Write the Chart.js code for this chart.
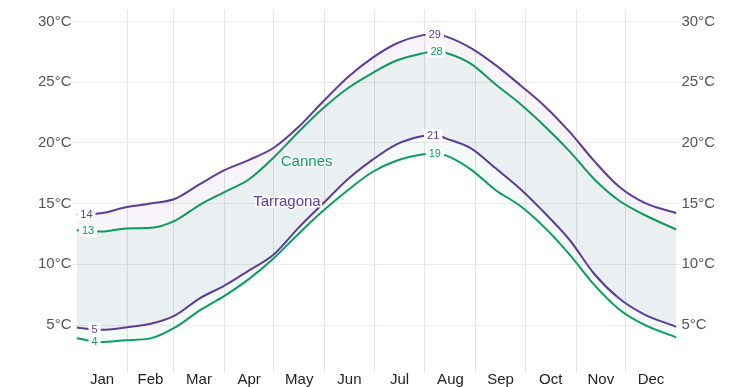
<!DOCTYPE html>
<html>
<head>
<meta charset="utf-8">
<script src="https://cdn.jsdelivr.net/npm/chart.js@4"></script>
<style>
  html, body { margin: 0; background: #fff; }
  #wrap { width: 753px; height: 387px; }
</style>
</head>
<body>
<div id="wrap"><canvas id="c"></canvas></div>
<script>
// day of year for each reading
const days = [0, 15, 30, 45, 60, 75, 90, 105, 120, 135, 150, 165, 180, 195, 210, 218, 225, 240, 255, 270, 285, 300, 315, 330, 345, 365];

const tarragonaHigh = [14.1, 14.2, 14.7, 15.0, 15.4, 16.6, 17.75, 18.6, 19.6, 21.3, 23.4, 25.4, 27.0, 28.2, 28.85, 28.95, 28.75, 27.8, 26.4, 24.75, 23.0, 20.9, 18.5, 16.4, 15.1, 14.2];
const tarragonaLow  = [4.8, 4.6, 4.8, 5.1, 5.8, 7.2, 8.25, 9.5, 10.8, 13.0, 15.0, 17.0, 18.6, 19.9, 20.55, 20.65, 20.35, 19.55, 17.9, 16.2, 14.2, 12.0, 9.2, 7.2, 5.9, 4.85];
const cannesHigh    = [12.8, 12.7, 12.95, 13.0, 13.6, 14.9, 15.95, 17.0, 18.8, 20.9, 22.85, 24.5, 25.75, 26.8, 27.35, 27.55, 27.4, 26.5, 24.8, 23.2, 21.35, 19.3, 17.0, 15.25, 14.1, 12.85];
const cannesLow     = [3.9, 3.6, 3.75, 3.9, 4.8, 6.2, 7.4, 8.8, 10.5, 12.5, 14.4, 16.1, 17.6, 18.55, 19.05, 19.1, 18.95, 17.8, 16.1, 14.8, 13.0, 10.8, 8.3, 6.3, 5.05, 3.97];

const months = ['Jan', 'Feb', 'Mar', 'Apr', 'May', 'Jun', 'Jul', 'Aug', 'Sep', 'Oct', 'Nov', 'Dec'];
const monthStarts = [0, 31, 59, 90, 120, 151, 181, 212, 243, 273, 304, 334, 365];
const tempTicks = [5, 10, 15, 20, 25, 30];

// min / max labels: which series, on which day, what it says
const valueLabels = [
  { series: 0, day: 6,   text: '14' },
  { series: 0, day: 218, text: '29' },
  { series: 1, day: 11,  text: '5' },
  { series: 1, day: 217, text: '21' },
  { series: 2, day: 7,   text: '13' },
  { series: 2, day: 219, text: '28' },
  { series: 3, day: 11,  text: '4' },
  { series: 3, day: 218, text: '19' }
];

const PURPLE = '#5e3c99';
const GREEN = '#0a9f5d';
const FONT = '"Liberation Sans", Arial, Helvetica, sans-serif';

const seriesArrays = [tarragonaHigh, tarragonaLow, cannesHigh, cannesLow];
const pts = arr => days.map((d, i) => ({ x: d, y: arr[i] }));

// only used to sit a label on its line
function valueAt(arr, day) {
  for (let i = 1; i < days.length; i++) {
    if (day <= days[i]) {
      const t = (day - days[i - 1]) / (days[i] - days[i - 1]);
      return arr[i - 1] + t * (arr[i] - arr[i - 1]);
    }
  }
  return arr[arr.length - 1];
}

const labelsPlugin = {
  id: 'labels',
  afterDatasetsDraw(chart) {
    const { ctx, scales: { x, y } } = chart;
    ctx.save();
    ctx.textAlign = 'center';
    ctx.textBaseline = 'middle';

    ctx.font = '11px ' + FONT;
    for (const l of valueLabels) {
      const color = chart.data.datasets[l.series].borderColor;
      const px = x.getPixelForValue(l.day);
      const py = y.getPixelForValue(valueAt(seriesArrays[l.series], l.day));
      const w = ctx.measureText(l.text).width + 6;
      ctx.fillStyle = '#fff';
      ctx.fillRect(px - w / 2, py - 6, w, 12);
      ctx.fillStyle = color;
      ctx.fillText(l.text, px, py + 0.5);
    }

    // series names
    ctx.font = '15px ' + FONT;
    ctx.lineWidth = 3;
    ctx.strokeStyle = '#fff';
    const names = [
      { text: 'Cannes', day: 140, temp: 18.4, color: GREEN },
      { text: 'Tarragona', day: 128, temp: 15.1, color: PURPLE }
    ];
    for (const n of names) {
      const px = x.getPixelForValue(n.day), py = y.getPixelForValue(n.temp);
      ctx.strokeText(n.text, px, py);
      ctx.fillStyle = n.color;
      ctx.fillText(n.text, px, py);
    }
    ctx.restore();
  }
};

const yAxis = (pos) => ({
  type: 'linear',
  position: pos,
  min: 1.13,
  max: 30.94,
  afterBuildTicks: axis => { axis.ticks = tempTicks.map(v => ({ value: v })); },
  border: { display: false },
  grid: {
    color: '#ebebeb',
    tickLength: 4,
    drawOnChartArea: pos === 'left'
  },
  ticks: {
    padding: 1,
    color: '#555',
    font: { size: 15, family: FONT },
    callback: v => v + '°C'
  }
});

new Chart(document.getElementById('c'), {
  type: 'line',
  data: {
    datasets: [
      { label: 'Tarragona high', data: pts(tarragonaHigh), borderColor: PURPLE,
        fill: '+1', backgroundColor: 'rgba(94,60,153,0.055)' },
      { label: 'Tarragona low', data: pts(tarragonaLow), borderColor: PURPLE, fill: false },
      { label: 'Cannes high', data: pts(cannesHigh), borderColor: GREEN,
        fill: '+1', backgroundColor: 'rgba(10,159,93,0.05)' },
      { label: 'Cannes low', data: pts(cannesLow), borderColor: GREEN, fill: false }
    ]
  },
  options: {
    responsive: true,
    maintainAspectRatio: false,
    animation: false,
    devicePixelRatio: 1,
    layout: { padding: { left: 37, right: 37, top: 10, bottom: 0 } },
    elements: {
      line: { borderWidth: 2, cubicInterpolationMode: 'monotone' },
      point: { radius: 0 }
    },
    plugins: { legend: { display: false }, tooltip: { enabled: false } },
    scales: {
      x: {
        type: 'linear',
        position: 'bottom',
        min: 0,
        max: 365,
        afterBuildTicks: axis => {
          axis.ticks = months.map((m, i) => ({ value: (monthStarts[i] + monthStarts[i + 1]) / 2 }));
        },
        border: { display: false },
        grid: { display: false, drawTicks: false },
        ticks: {
          autoSkip: false,
          maxRotation: 0,
          padding: 0,
          color: '#222',
          font: { size: 15, family: FONT, lineHeight: 1 },
          callback: (v, i) => months[i]
        }
      },
      xg: {
        type: 'linear',
        position: 'top',
        min: 0,
        max: 365,
        afterBuildTicks: axis => {
          axis.ticks = monthStarts.slice(1, -1).map(v => ({ value: v }));
        },
        border: { display: false },
        grid: { color: '#e4e4e4', drawTicks: false },
        ticks: { display: false }
      },
      y: yAxis('left'),
      y2: yAxis('right')
    }
  },
  plugins: [labelsPlugin]
});
</script>
</body>
</html>
